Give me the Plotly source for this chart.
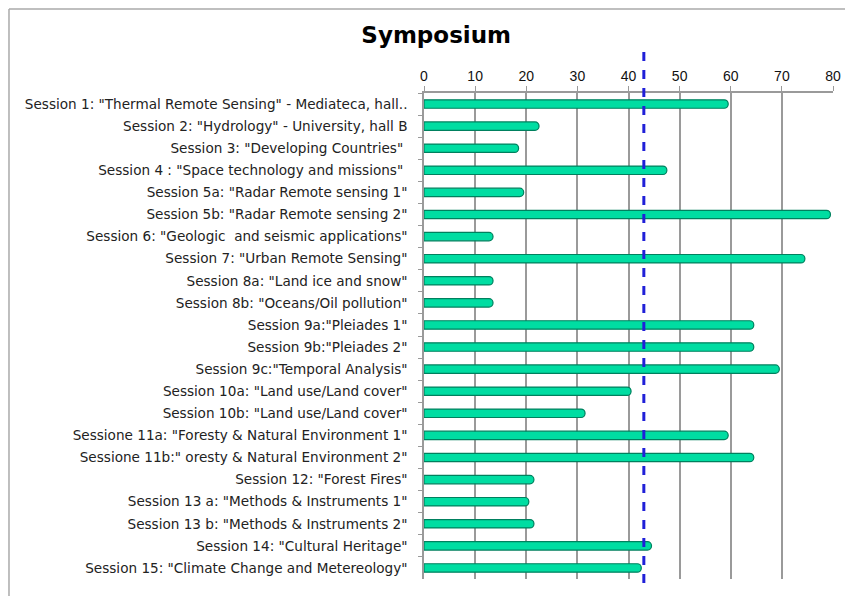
import plotly.graph_objects as go

sessions = [
    'Session 1: "Thermal Remote Sensing" - Mediateca, hall..',
    'Session 2: "Hydrology" - University, hall B',
    'Session 3: "Developing Countries" ',
    'Session 4 : "Space technology and missions" ',
    'Session 5a: "Radar Remote sensing 1"',
    'Session 5b: "Radar Remote sensing 2"',
    'Session 6: "Geologic  and seismic applications"',
    'Session 7: "Urban Remote Sensing"',
    'Session 8a: "Land ice and snow"',
    'Session 8b: "Oceans/Oil pollution"',
    'Session 9a:"Pleiades 1"',
    'Session 9b:"Pleiades 2"',
    'Session 9c:"Temporal Analysis"',
    'Session 10a: "Land use/Land cover"',
    'Session 10b: "Land use/Land cover"',
    'Sessione 11a: "Foresty & Natural Environment 1"',
    'Sessione 11b:" oresty & Natural Environment 2"',
    'Session 12: "Forest Fires"',
    'Session 13 a: "Methods & Instruments 1"',
    'Session 13 b: "Methods & Instruments 2"',
    'Session 14: "Cultural Heritage"',
    'Session 15: "Climate Change and Metereology"',
]
participants = [59.5, 22.5, 18.5, 47.5, 19.5, 79.5, 13.5, 74.5, 13.5, 13.5,
                64.5, 64.5, 69.5, 40.5, 31.5, 59.5, 64.5, 21.5, 20.5, 21.5,
                44.5, 42.5]
mean_line = 43
x_ticks = [0, 10, 20, 30, 40, 50, 60, 70, 80]

fig = go.Figure()
fig.add_trace(go.Bar(
    x=participants, y=sessions, orientation="h",
    marker=dict(color="#00DDA2", line=dict(color="#00805E", width=1.2), cornerradius=4),
    width=0.38,
    hoverinfo="x+y",
))

grid = "#9a9a9a"
fig.add_shape(type="line", xref="x", yref="paper", x0=mean_line, x1=mean_line,
              y0=-0.008, y1=1.093, line=dict(color="#2020D8", width=3, dash="dash"))
# outer frame
fig.add_shape(type="line", xref="paper", yref="paper", x0=-1.0147, x1=1.2, y0=1.1728, y1=1.1728,
              line=dict(color="#aaaaaa", width=1.5))
fig.add_shape(type="line", xref="paper", yref="paper", x0=-1.0147, x1=-1.0147, y0=1.1728, y1=-0.2,
              line=dict(color="#aaaaaa", width=1.5))

fig.update_layout(
    width=853, height=596,
    margin=dict(l=416, r=28, t=85, b=25, autoexpand=False),
    paper_bgcolor="white", plot_bgcolor="white",
    showlegend=False,
    font=dict(family="Liberation Sans, Arial, sans-serif", color="#222222"),
    title=dict(text="<b>Symposium</b>", x=0.502, xanchor="center", y=0.955, yanchor="middle",
               font=dict(family="DejaVu Sans, sans-serif", size=23, color="#000000")),
    xaxis=dict(side="top", range=[0, 80], tickvals=x_ticks, showgrid=True, gridcolor=grid,
               gridwidth=1.5, showline=True, linecolor=grid, linewidth=1.5, ticks="outside",
               ticklen=5, tickcolor=grid, tickfont=dict(size=14, color="#111111"), zeroline=False,
               fixedrange=True, automargin=False),
    yaxis=dict(autorange="reversed", showline=True, linecolor=grid, linewidth=1.5,
               ticks="outside", ticklen=4, tickcolor=grid, tickson="boundaries",
               ticklabelstandoff=12, automargin=False,
               tickfont=dict(family="DejaVu Sans, sans-serif", size=13.6, color="#222222"),
               fixedrange=True),
    bargap=0.62,
)

fig.write_html("out.html")
